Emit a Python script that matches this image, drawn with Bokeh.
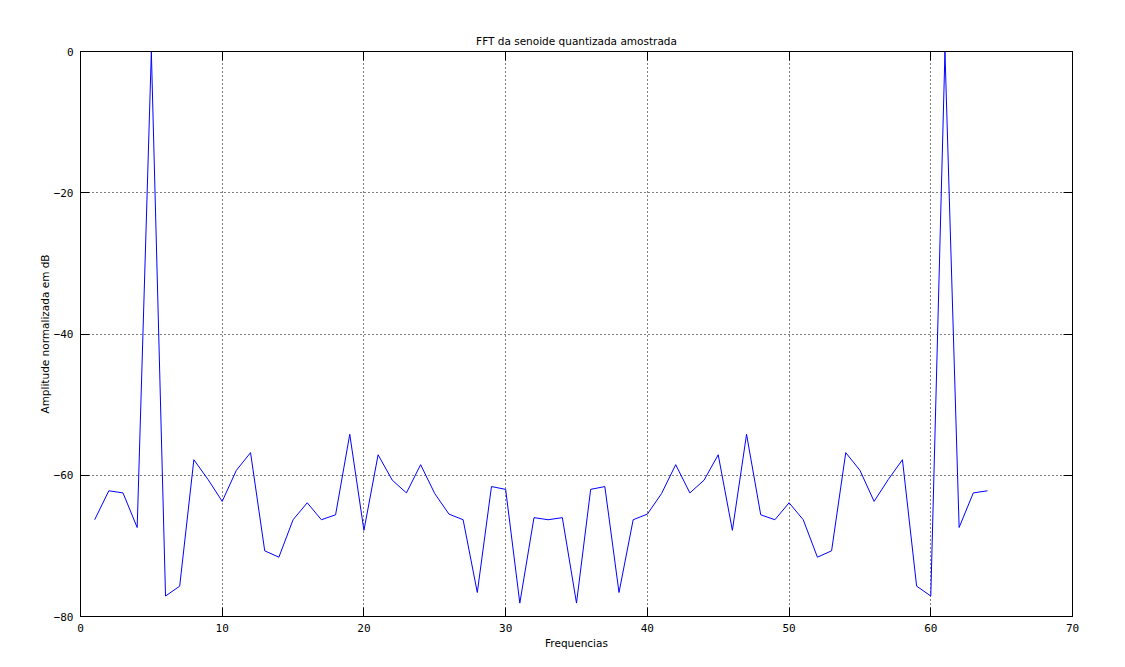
from bokeh.plotting import figure
from bokeh.models import LinearAxis, FixedTicker, Range1d
from bokeh.embed import file_html
from bokeh.resources import INLINE

freqs = list(range(1, 65))
amps_db = [
    -66.3, -62.2, -62.5, -67.4, 0.0, -77.1, -75.7, -57.8, -60.6, -63.7,
    -59.3, -56.8, -70.7, -71.6, -66.3, -63.9, -66.3, -65.6, -54.2, -67.8,
    -57.1, -60.7, -62.5, -58.5, -62.6, -65.5, -66.3, -76.6, -61.6, -62.0,
    -78.1, -66.0, -66.3, -66.0, -78.1, -62.0, -61.6, -76.6, -66.3, -65.5,
    -62.6, -58.5, -62.5, -60.7, -57.1, -67.8, -54.2, -65.6, -66.3, -63.9,
    -66.3, -71.6, -70.7, -56.8, -59.3, -63.7, -60.6, -57.8, -75.7, -77.1,
    0.0, -67.4, -62.5, -62.2,
]
x_ticks = [0, 10, 20, 30, 40, 50, 60, 70]
y_ticks = [-80, -60, -40, -20, 0]
title_text = "FFT da senoide quantizada amostrada"
x_label = "Frequencias"
y_label = "Amplitude normalizada em dB"

TICK_FONT = "DejaVu Sans Mono"
LABEL_FONT = "DejaVu Sans"

p = figure(
    width=1117, height=659,
    output_backend="svg", toolbar_location=None,
    x_range=Range1d(0, 70), y_range=Range1d(-80, 0),
    min_border_left=80, min_border_right=45,
    min_border_top=51, min_border_bottom=43,
    x_axis_label=x_label, y_axis_label=y_label,
)
p.title.text = title_text
p.title.align = "center"
p.title.text_font = LABEL_FONT
p.title.text_font_size = "10.5px"
p.title.text_font_style = "normal"
p.title.text_color = "black"

p.background_fill_color = "white"
p.border_fill_color = "white"
p.outline_line_color = "black"
p.outline_line_width = 1
p.outline_line_alpha = 1

p.line(freqs, amps_db, line_color="#0000ff", line_width=1)

def style_axis(ax, ticks, labels=True):
    ax.axis_line_color = "black"
    ax.major_tick_line_color = "black"
    ax.major_tick_in = 9
    ax.major_tick_out = 0
    ax.minor_tick_line_color = None
    ax.major_label_text_font = TICK_FONT
    ax.major_label_text_font_size = "11px"
    ax.major_label_text_color = "black"
    ax.axis_label_text_font = LABEL_FONT
    ax.axis_label_text_font_size = "10.5px"
    ax.axis_label_text_font_style = "normal"
    ax.axis_label_text_color = "black"
    if not labels:
        ax.major_label_overrides = {t: "" for t in ticks}
        ax.major_label_standoff = 0

xa = p.xaxis[0]
xa.ticker = FixedTicker(ticks=x_ticks)
style_axis(xa, x_ticks)
xa.major_label_standoff = 7
xa.axis_label_standoff = 2

ya = p.yaxis[0]
ya.ticker = FixedTicker(ticks=y_ticks)
style_axis(ya, y_ticks)
ya.major_label_standoff = 7
ya.axis_label_standoff = 0

top = LinearAxis(ticker=FixedTicker(ticks=x_ticks))
style_axis(top, x_ticks, labels=False)
top.major_label_standoff = 3
p.add_layout(top, "above")

right = LinearAxis(ticker=FixedTicker(ticks=y_ticks))
style_axis(right, y_ticks, labels=False)
p.add_layout(right, "right")

p.xgrid.ticker = FixedTicker(ticks=x_ticks)
p.ygrid.ticker = FixedTicker(ticks=y_ticks)
for g in (p.xgrid[0], p.ygrid[0]):
    g.grid_line_color = "black"
    g.grid_line_dash = "1 3"
    g.grid_line_width = 1
    g.grid_line_alpha = 1

open("out.html", "w").write(file_html(p, INLINE))
